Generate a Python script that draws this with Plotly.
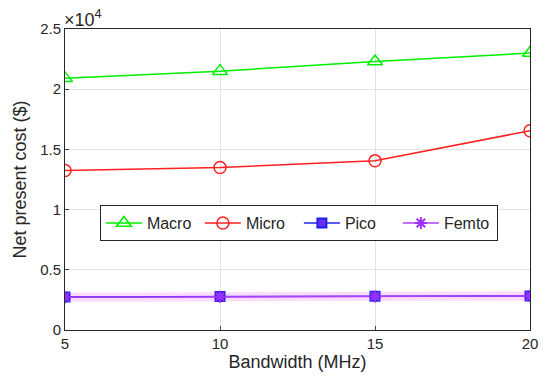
import plotly.graph_objects as go

bandwidth = [5, 10, 15, 20]
macro = [20900, 21500, 22300, 23000]
micro = [13250, 13500, 14050, 16550]
pico = [2750, 2780, 2800, 2830]
femto = [2730, 2760, 2790, 2820]

FONT = "Liberation Sans, Arial, sans-serif"

fig = go.Figure()
# soft halo under the femto line, as in the reference
fig.add_trace(go.Scatter(x=bandwidth, y=femto, mode="lines", showlegend=False, hoverinfo="skip",
                         line=dict(color="rgba(255,150,255,0.35)", width=9)))
fig.add_trace(go.Scatter(x=bandwidth, y=macro, name="Macro", mode="lines+markers",
                         line=dict(color="#00ee00", width=1.5),
                         marker=dict(symbol="triangle-up-open", size=13, color="#00ee00", line=dict(width=1.5))))
fig.add_trace(go.Scatter(x=bandwidth, y=micro, name="Micro", mode="lines+markers",
                         line=dict(color="#ff2020", width=1.5),
                         marker=dict(symbol="circle-open", size=12, color="#ff2020", line=dict(width=1.5))))
fig.add_trace(go.Scatter(x=bandwidth, y=pico, name="Pico", mode="lines+markers",
                         line=dict(color="#2020ee", width=1.5),
                         marker=dict(symbol="square", size=9, color="#6a30ee", line=dict(width=2, color="#2020ee"))))
fig.add_trace(go.Scatter(x=bandwidth, y=femto, name="Femto", mode="lines+markers",
                         line=dict(color="#b040ff", width=1.5),
                         marker=dict(symbol="asterisk-open", size=10, color="#9a30ff", line=dict(width=2))))

fig.update_layout(
    width=542, height=377,
    margin=dict(l=55, r=17, t=21, b=55),
    paper_bgcolor="white", plot_bgcolor="white",
    font=dict(family=FONT, size=15, color="#262626"),
    showlegend=True,
    legend=dict(orientation="h", x=0.075, y=0.355, xanchor="left", yanchor="middle",
                bgcolor="white", bordercolor="#262626", borderwidth=1,
                font=dict(size=16), tracegroupgap=0, itemwidth=36,
                entrywidth=48, entrywidthmode="pixels"),
    xaxis=dict(range=[5, 20], tickvals=[5, 10, 15, 20], showgrid=True, gridcolor="#e3e3e3",
               showline=True, linecolor="#262626", mirror=True, ticks="inside", ticklen=4,
               zeroline=False, title=dict(text="Bandwidth (MHz)", standoff=4, font=dict(size=18))),
    yaxis=dict(range=[0, 25000], tickvals=[0, 5000, 10000, 15000, 20000, 25000],
               ticktext=["0", "0.5", "1", "1.5", "2", "2.5"], showgrid=True, gridcolor="#e3e3e3",
               showline=True, linecolor="#262626", mirror=True, ticks="inside", ticklen=4,
               zeroline=False, title=dict(text="Net present cost ($)", standoff=8, font=dict(size=18))),
)
fig.add_annotation(x=0, y=1, xref="paper", yref="paper", xanchor="left", yanchor="bottom",
                   text="×10<sup>4</sup>", showarrow=False, font=dict(size=18, color="#262626"),
                   xshift=-3, yshift=-3)

fig.write_html("out.html")
